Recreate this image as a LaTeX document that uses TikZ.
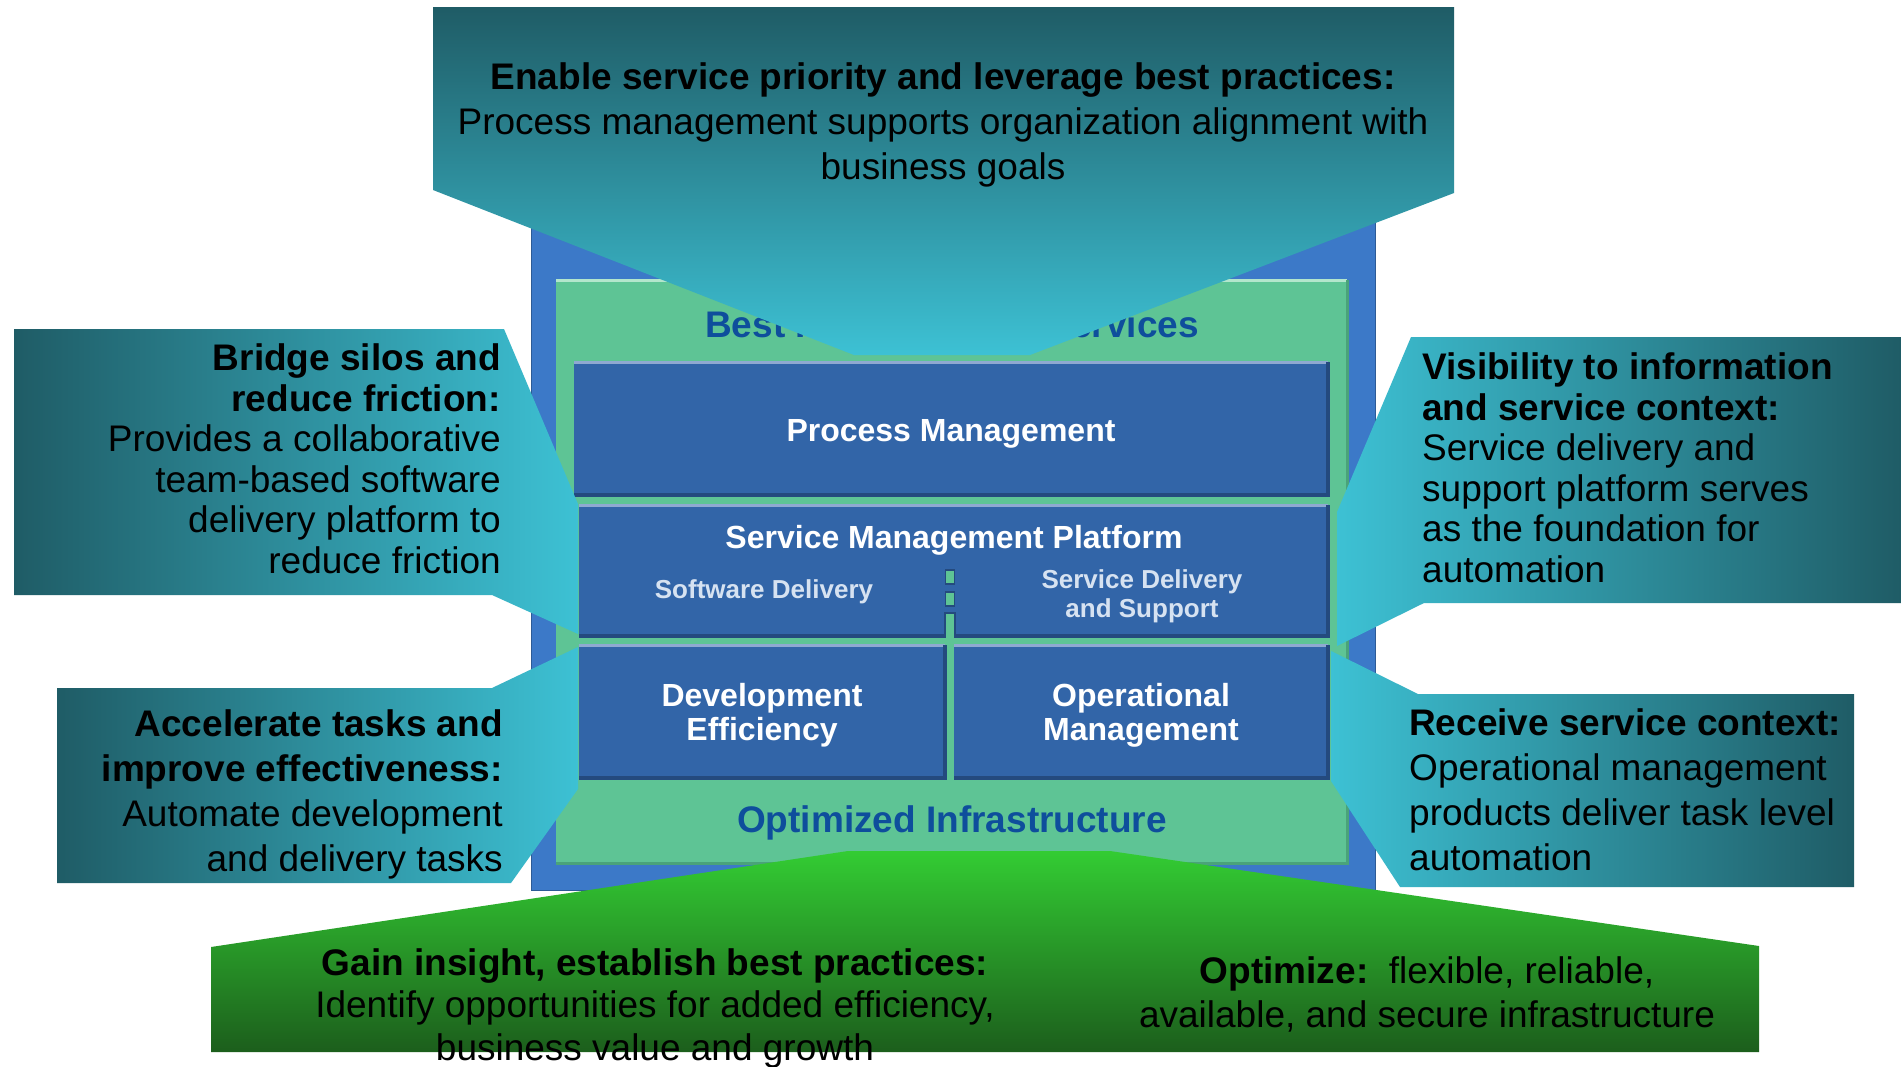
\documentclass[tikz,border=0pt]{standalone}
\usepackage{fontspec}
\setmainfont{Liberation Sans}
\usetikzlibrary{positioning,calc}

\definecolor{tealdark}{HTML}{1F5C66}
\definecolor{tealcyan}{HTML}{3DC1D4}
\definecolor{frameblue}{HTML}{3C79C8}
\definecolor{mintgreen}{HTML}{5EC495}
\definecolor{mintlight}{HTML}{B3E6CC}
\definecolor{mintdark}{HTML}{4AA37A}
\definecolor{boxblue}{HTML}{3265A8}
\definecolor{boxedge}{HTML}{244A7E}
\definecolor{boxlight}{HTML}{8FA9D1}
\definecolor{infrablue}{HTML}{0E4E9C}
\definecolor{limegreen}{HTML}{33CC33}
\definecolor{forestgreen}{HTML}{1C5E1C}
\definecolor{sublabel}{HTML}{D6E2F1}

\tikzstyle{framebox}=[rectangle, fill=frameblue, draw=frameblue!75!black, line width=1pt,
                      inner sep=0pt, outer sep=0pt]
\tikzstyle{greenbox}=[rectangle, fill=mintgreen, inner sep=0pt, outer sep=0pt]
\tikzstyle{bbox}=[rectangle, fill=boxblue, inner sep=0pt, outer sep=0pt]
\tikzstyle{boxtop}=[line width=3pt, boxlight]
\tikzstyle{boxbot}=[line width=4pt, boxedge]
\tikzstyle{boxtxt}=[text=white, font=\bfseries\fontsize{32}{34}\selectfont, align=center]
\tikzstyle{subtxt}=[text=sublabel, font=\bfseries\fontsize{26}{29}\selectfont, align=center]
\tikzstyle{infratxt}=[text=infrablue, font=\bfseries\fontsize{37}{40}\selectfont]
\tikzstyle{linkbox}=[rectangle, fill=mintgreen, draw=boxedge, line width=1.5pt,
                     minimum width=9pt, minimum height=14pt, inner sep=0pt]
\tikzstyle{tealdown}=[top color=tealdark, bottom color=tealcyan]
\tikzstyle{tealright}=[left color=tealdark, right color=tealcyan]
\tikzstyle{tealleft}=[left color=tealcyan, right color=tealdark]
\tikzstyle{greendown}=[top color=limegreen, bottom color=forestgreen]
\tikzstyle{calltxt}=[text=black, inner sep=0pt, font=\fontsize{37}{45}\selectfont]

\begin{document}
\begin{tikzpicture}[x=1pt, y=-1pt]
\useasboundingbox (0,0) rectangle (1901,1066);
\fill[white] (0,0) rectangle (1901,1066);

% stack frame
\node (FRAME) [framebox, minimum width=844pt, minimum height=690pt, anchor=north west] at (531,200) {};
\node (BPS) [greenbox, minimum width=791pt, minimum height=583pt, anchor=north west] at (556,280) {};
\draw[mintlight, line width=3pt] (BPS.north west) -- (BPS.north east);
\draw[mintdark, line width=3pt] (BPS.south west) -- (BPS.south east) -- (BPS.north east);
\node (BPST) [infratxt] at (952,324) {Best Practices and Services};
\node (INFRA) [infratxt] at (952,823) {Optimized Infrastructure};

% layers
\node (PM) [bbox, minimum width=754pt, minimum height=133pt, anchor=north west] at (574,362) {};
\node (SMP) [bbox, minimum width=749pt, minimum height=131pt, below left=10pt and 0pt of PM.south east] {};
\node (DEV) [bbox, minimum width=366pt, minimum height=133pt, below right=9pt and 0pt of SMP.south west] {};
\node (OPM) [bbox, minimum width=374pt, minimum height=133pt, below left=9pt and 0pt of SMP.south east] {};
\draw[boxtop] (PM.north west) -- (PM.north east);
\draw[boxbot] (PM.south west) -- (PM.south east) -- (PM.north east);
\draw[boxtop] (SMP.north west) -- (SMP.north east);
\draw[boxbot] (SMP.south west) -- (SMP.south east) -- (SMP.north east);
\draw[boxtop] (DEV.north west) -- (DEV.north east);
\draw[boxbot] (DEV.south west) -- (DEV.south east) -- (DEV.north east);
\draw[boxtop] (OPM.north west) -- (OPM.north east);
\draw[boxbot] (OPM.south west) -- (OPM.south east) -- (OPM.north east);

\node (PMT) [boxtxt] at ([yshift=-5pt]PM.center) {Process Management};
\node (DEVT) [boxtxt] at ([yshift=-4pt]DEV.center) {Development\\Efficiency};
\node (OPMT) [boxtxt] at ([yshift=-4pt]OPM.center) {Operational\\Management};
\node (SMPT) [boxtxt] at (954,540) {Service Management Platform};
\node (SWD) [subtxt] at (764,592) {Software Delivery};
\node (SDS) [subtxt] at (1142,596) {Service Delivery\\and Support};
\node (LNK1) [linkbox] at (950,577) {};
\node (LNK2) [linkbox] at (950,599) {};
\fill[mintgreen] (946,613) rectangle (954,640);
\draw[boxedge, line width=1.5pt] (945,636) -- (945,613) -- (955,613) -- (955,636);

% callouts
\path[tealdown] (433,7) -- (1454,7) -- (1454,193) -- (1030,355) -- (854,355) -- (433,190) -- cycle;
\path[tealright] (14,329) -- (504,329) -- (578,504) -- (578,634) -- (492,595) -- (14,595) -- cycle;
\path[tealright] (578,647) -- (492,688) -- (57,688) -- (57,883) -- (511,883) -- (578,789) -- cycle;
\path[tealleft] (1411,337) -- (1901,337) -- (1901,603) -- (1424,603) -- (1337,646) -- (1337,512) -- cycle;
\path[tealleft] (1331,651) -- (1418,694) -- (1854,694) -- (1854,887) -- (1400,887) -- (1331,781) -- cycle;
\path[greendown] (848,851) -- (1110,851) -- (1759,946) -- (1759,1052) -- (211,1052) -- (211,947) -- cycle;

\node (ENABLE) [calltxt, align=center] at (943,125) {\textbf{Enable service priority and leverage best practices:}\\Process management supports organization alignment with\\business goals};
\node (BRIDGE) [calltxt, align=right, anchor=east, font=\fontsize{37}{40.5}\selectfont] at (501,459) {\textbf{Bridge silos and}\\\textbf{reduce friction:}\\Provides a collaborative\\team-based software\\delivery platform to\\reduce friction};
\node (ACCEL) [calltxt, align=right, anchor=east] at (503,794) {\textbf{Accelerate tasks and}\\\textbf{improve effectiveness:}\\Automate development\\and delivery tasks};
\node (VISIB) [calltxt, align=left, anchor=west, font=\fontsize{37}{40.5}\selectfont] at (1422,468) {\textbf{Visibility to information}\\\textbf{and service context:}\\Service delivery and\\support platform serves\\as the foundation for\\automation};
\node (RECV) [calltxt, align=left, anchor=west] at (1409,790) {\textbf{Receive service context:}\\Operational management\\products deliver task level\\automation};
\node (GAIN) [calltxt, align=center, font=\fontsize{37}{42.5}\selectfont] at (655,1008) {\textbf{Gain insight, establish best practices:}\\Identify opportunities for added efficiency,\\business value and growth};
\node (OPTIM) [calltxt, align=center, font=\fontsize{37}{44}\selectfont] at (1427,994) {\textbf{Optimize:}\ \ flexible, reliable,\\available, and secure infrastructure};

\end{tikzpicture}
\end{document}
